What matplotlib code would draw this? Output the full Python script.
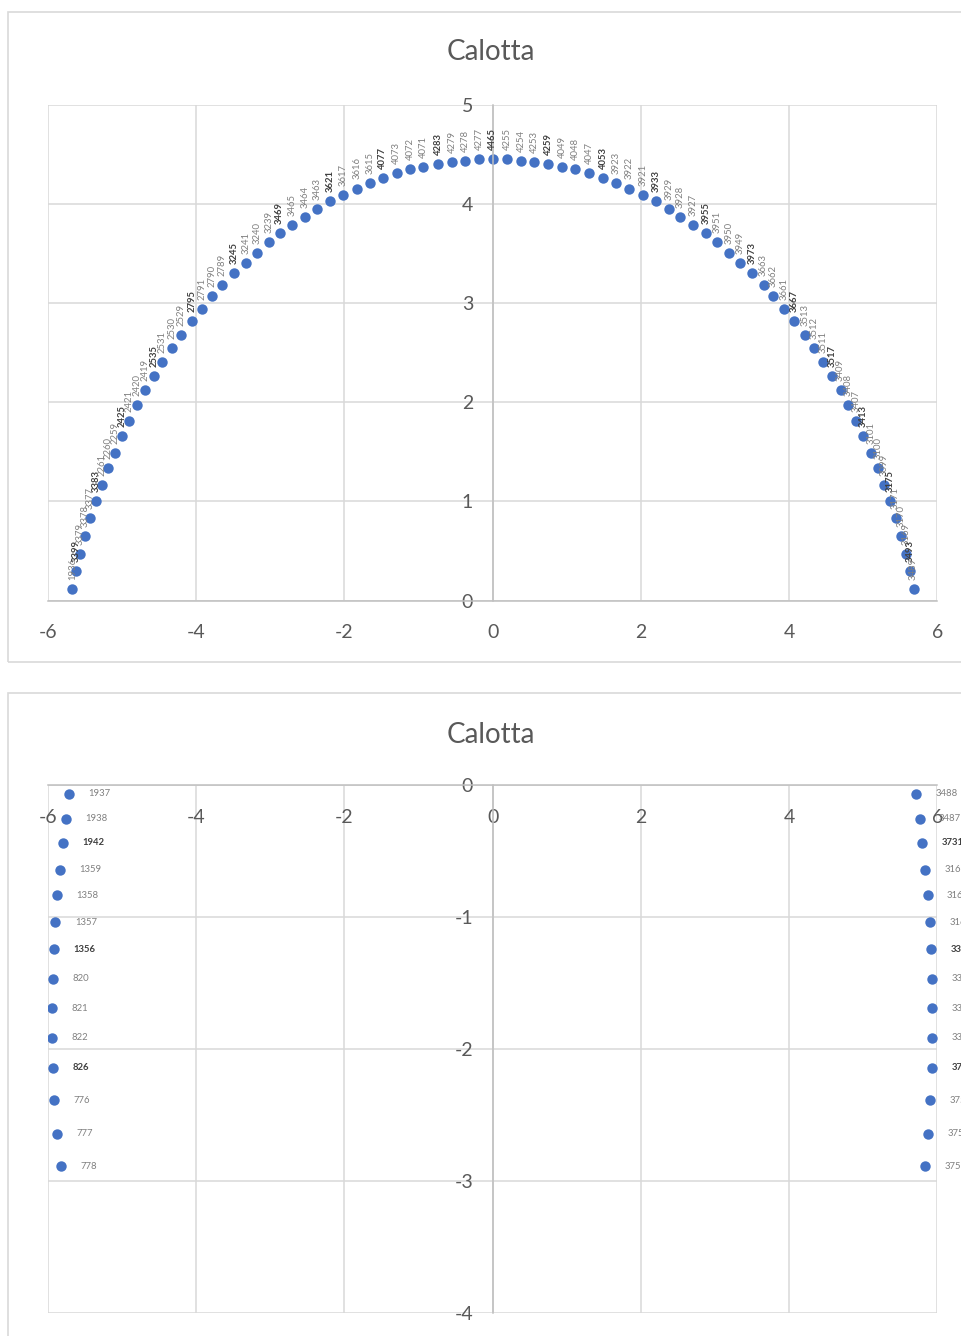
import matplotlib.pyplot as plt
from matplotlib.patches import Rectangle

plt.rcParams['font.family'] = ['Lato', 'DejaVu Sans']
plt.rcParams['axes.unicode_minus'] = False

# ---- top chart: the dome ----
top_x = [-5.671, -5.617, -5.563, -5.495, -5.428, -5.355, -5.274, -5.185, -5.094, -4.996,
         -4.910, -4.802, -4.686, -4.564, -4.456, -4.321, -4.200, -4.059, -3.920, -3.785,
         -3.646, -3.493, -3.333, -3.178, -3.023, -2.874, -2.702, -2.530, -2.364, -2.193,
         -2.013, -1.833, -1.653, -1.482, -1.293, -1.113, -0.934, -0.735, -0.547, -0.367,
         -0.186, 0.0,
         0.200, 0.385, 0.560, 0.753, 0.942, 1.117, 1.302, 1.495, 1.667, 1.842,
         2.027, 2.206, 2.382, 2.530, 2.706, 2.881, 3.034, 3.188, 3.344, 3.502,
         3.655, 3.789, 3.934, 4.069, 4.213, 4.335, 4.456, 4.578, 4.694, 4.798,
         4.901, 5.004, 5.108, 5.198, 5.283, 5.368, 5.436, 5.509, 5.576, 5.630, 5.679]
top_y = [0.118, 0.299, 0.471, 0.648, 0.830, 0.998, 1.166, 1.334, 1.489, 1.656,
         1.812, 1.969, 2.124, 2.265, 2.406, 2.550, 2.678, 2.820, 2.937, 3.065,
         3.183, 3.299, 3.402, 3.505, 3.609, 3.702, 3.790, 3.868, 3.945, 4.025,
         4.086, 4.153, 4.204, 4.257, 4.307, 4.345, 4.372, 4.402, 4.425, 4.435,
         4.448, 4.449,
         4.449, 4.435, 4.425, 4.402, 4.372, 4.345, 4.307, 4.257, 4.204, 4.153,
         4.086, 4.025, 3.945, 3.868, 3.790, 3.700, 3.609, 3.505, 3.404, 3.301,
         3.183, 3.065, 2.937, 2.820, 2.678, 2.550, 2.406, 2.265, 2.124, 1.969,
         1.812, 1.656, 1.489, 1.336, 1.166, 0.998, 0.830, 0.648, 0.471, 0.300, 0.118]
top_labels = ["1936", "3399", "3379", "3378", "3377", "3383", "2261", "2260", "2259", "2425",
              "2421", "2420", "2419", "2535", "2531", "2530", "2529", "2795", "2791", "2790",
              "2789", "3245", "3241", "3240", "3239", "3469", "3465", "3464", "3463", "3621",
              "3617", "3616", "3615", "4077", "4073", "4072", "4071", "4283", "4279", "4278",
              "4277", "4465",
              "4255", "4254", "4253", "4259", "4049", "4048", "4047", "4053", "3923", "3922",
              "3921", "3933", "3929", "3928", "3927", "3955", "3951", "3950", "3949", "3973",
              "3663", "3662", "3661", "3667", "3513", "3512", "3511", "3517", "3409", "3408",
              "3407", "3413", "3101", "3100", "3099", "3175", "3171", "3170", "3169", "3493", "3489"]

# ---- bottom chart: the two side walls ----
bot_left_x = [-5.719, -5.756, -5.796, -5.841, -5.877, -5.900, -5.918, -5.935, -5.945, -5.949,
              -5.935, -5.918, -5.877, -5.827]
bot_left_y = [-0.063, -0.252, -0.434, -0.637, -0.834, -1.036, -1.243, -1.466, -1.688, -1.913,
              -2.140, -2.388, -2.641, -2.889]
bot_left_labels = ["1937", "1938", "1942", "1359", "1358", "1357", "1356",
                   "820", "821", "822", "826", "776", "777", "778"]
bot_right_x = [5.715, 5.760, 5.796, 5.837, 5.868, 5.904, 5.918, 5.935, 5.935, 5.935,
               5.935, 5.904, 5.873, 5.837]
bot_right_y = bot_left_y
bot_right_labels = ["3488", "3487", "3731", "3165", "3164", "3163", "3393",
                    "3387", "3386", "3385", "3757", "3753", "3752", "3751"]

bold_labels = ["3399", "3383", "2425", "2535", "2795", "3245", "3469", "3621", "4077", "4283",
               "4465", "4259", "4053", "3933", "3955", "3973", "3667", "3517", "3413", "3175",
               "3493", "1942", "1356", "826", "3731", "3393", "3757"]

BLUE = '#4472C4'
GRID = '#d9d9d9'
TXT = '#595959'
W, H = 961, 1336


def px_box(x0, y0, x1, y1):
    # pixel box (top-left origin) -> figure fraction rect
    return [x0 / W, 1 - y1 / H, (x1 - x0) / W, (y1 - y0) / H]


def style(ax, ylo, yhi):
    ax.set_xlim(-6, 6)
    ax.set_ylim(ylo, yhi)
    ax.set_xticks(range(-6, 7, 2))
    ax.set_yticks(range(ylo, yhi + 1))
    ax.set_axisbelow(True)
    ax.grid(color=GRID, lw=1.1)
    for s in ['top', 'right']:
        ax.spines[s].set_visible(False)
    ax.spines['left'].set_position(('data', 0))
    ax.spines['bottom'].set_position(('data', 0))
    for s in ['left', 'bottom']:
        ax.spines[s].set_color('#bfbfbf')
        ax.spines[s].set_linewidth(1.1)
    ax.tick_params(axis='x', length=0, pad=17, labelsize=14, labelcolor=TXT)
    ax.tick_params(axis='y', length=0, pad=14, labelsize=14, labelcolor=TXT)


def lab_style(t):
    if t in bold_labels:
        return dict(color='#404040', fontweight='bold')
    return dict(color='#808080')


fig = plt.figure(figsize=(W / 100, H / 100), dpi=100)

# chart frames
fig.patches.append(Rectangle((8 / W, 1 - 662 / H), 1.0, (662 - 12) / H, transform=fig.transFigure,
                             fill=False, ec=GRID, lw=1.2))
fig.patches.append(Rectangle((8 / W, -0.1), 1.0, 0.1 + (H - 693) / H, transform=fig.transFigure,
                             fill=False, ec=GRID, lw=1.2))

# top
ax1 = fig.add_axes(px_box(48, 104.5, 937.3, 600.5))
style(ax1, 0, 5)
ax1.plot(top_x, top_y, 'o', color=BLUE, ms=7.5, mec='none')
for x, y, t in zip(top_x, top_y, top_labels):
    ax1.annotate(t, (x, y), xytext=(0, 6.5), textcoords='offset points', rotation=90,
                 ha='center', va='bottom', fontsize=6.8, **lab_style(t))
fig.text(491 / W, 1 - 52 / H, 'Calotta', ha='center', va='center', fontsize=20, color=TXT)

# bottom
ax2 = fig.add_axes(px_box(48, 785.5, 937.3, 1313))
style(ax2, -4, 0)
ax2.plot(bot_left_x, bot_left_y, 'o', color=BLUE, ms=7.5, mec='none')
ax2.plot(bot_right_x, bot_right_y, 'o', color=BLUE, ms=7.5, mec='none')
for x, y, t in list(zip(bot_left_x, bot_left_y, bot_left_labels)) + \
        list(zip(bot_right_x, bot_right_y, bot_right_labels)):
    ax2.annotate(t, (x, y), xytext=(14, 0), textcoords='offset points',
                 ha='left', va='center', fontsize=6.8, **lab_style(t))
fig.text(491 / W, 1 - 735 / H, 'Calotta', ha='center', va='center', fontsize=20, color=TXT)

fig.savefig('out.png', dpi=100)
